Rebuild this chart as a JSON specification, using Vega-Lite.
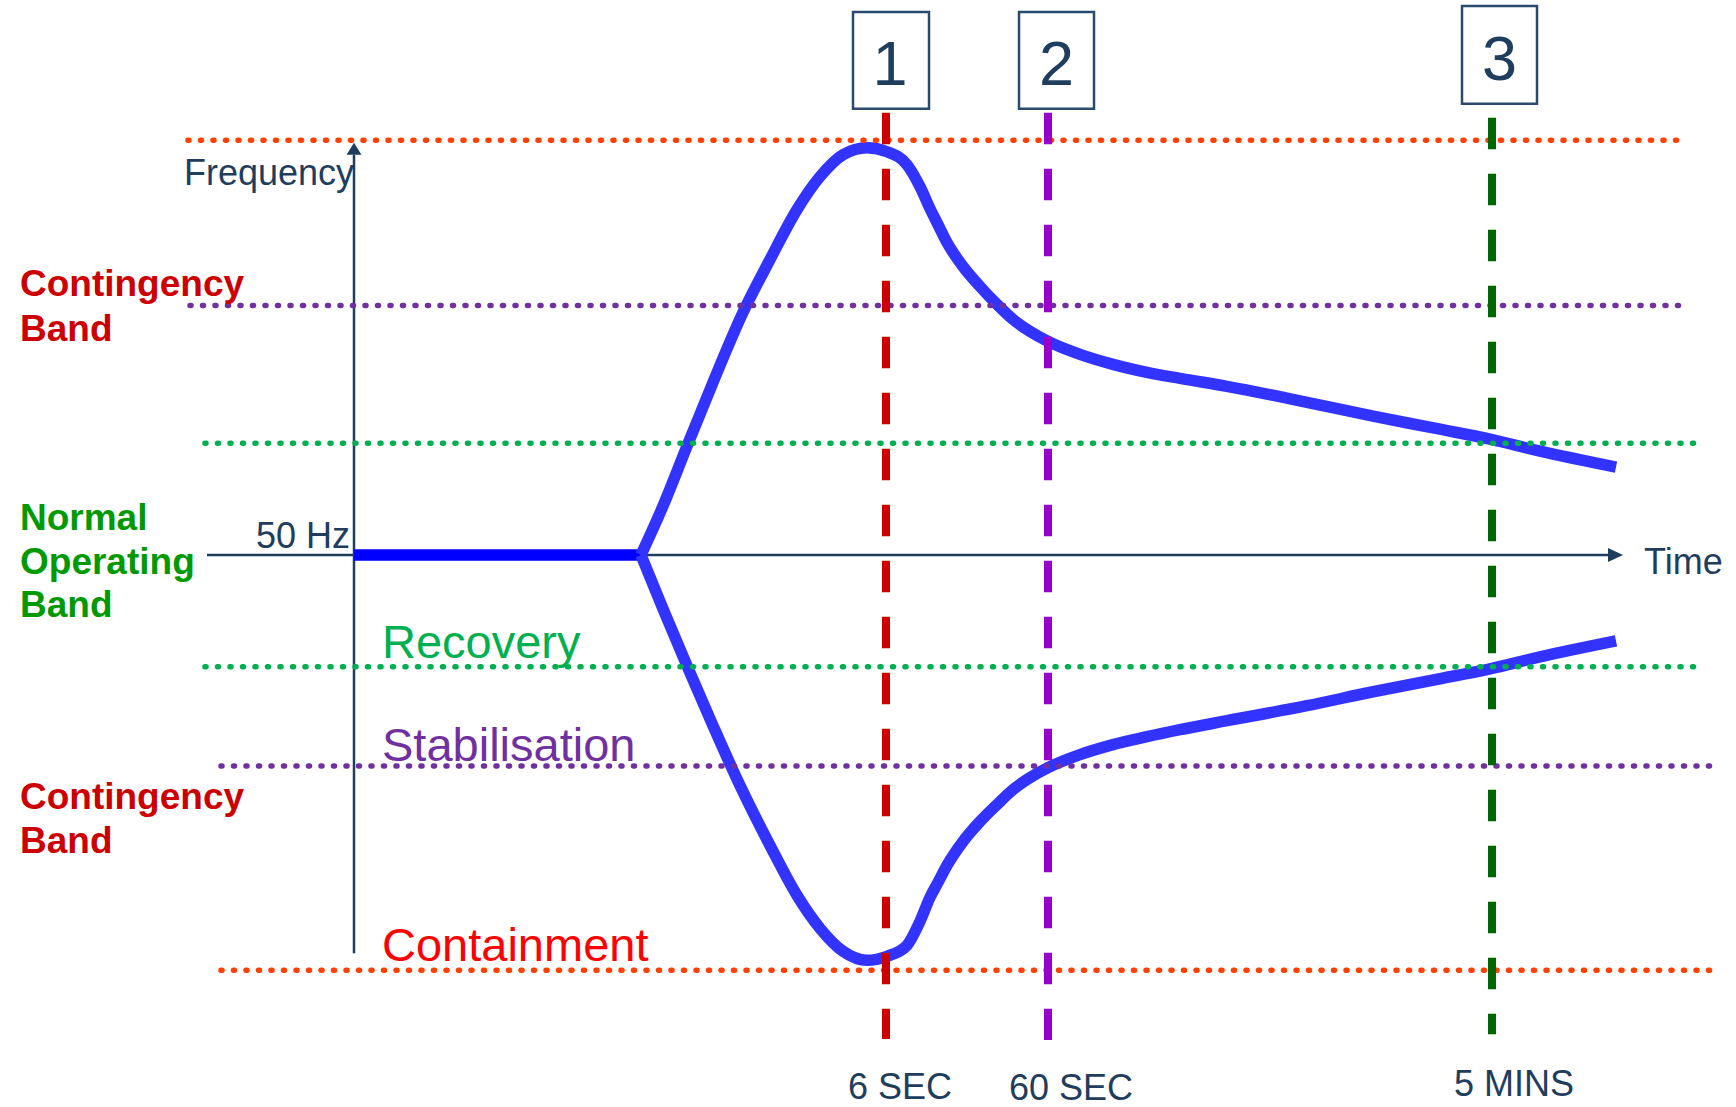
{
  "$schema": "https://vega.github.io/schema/vega-lite/v6.json",
  "width": 1736,
  "height": 1107,
  "autosize": {"type": "fit", "contains": "padding"},
  "padding": 0,
  "background": "white",
  "config": {"view": {"stroke": null}, "text": {"font": "Liberation Sans"}},
  "resolve": {"scale": {"color": "independent"}},
  "encoding": {
    "x": {"field": "t", "type": "quantitative", "scale": {"domain": [-354, 1382], "nice": false, "zero": false}, "axis": null},
    "y": {"field": "f", "type": "quantitative", "scale": {"domain": [-551, 556], "nice": false, "zero": false}, "axis": null}
  },
  "layer": [
    {
      "data": {"values": [{"t": -147, "t2": 1256, "f": 0}]},
      "mark": {"type": "rule", "color": "#1F3D5C", "strokeWidth": 2.5},
      "encoding": {"x2": {"field": "t2"}}
    },
    {
      "data": {"values": [{"t": 0, "f": -399, "f2": 401}]},
      "mark": {"type": "rule", "color": "#1F3D5C", "strokeWidth": 2.5},
      "encoding": {"y2": {"field": "f2"}}
    },
    {
      "data": {"values": [{"t": 1261.5, "f": 0}]},
      "mark": {"type": "point", "shape": "M-1,-0.93L1,0L-1,0.93Z", "size": 225, "filled": true, "color": "#1F3D5C", "opacity": 1, "strokeWidth": 0},
      "encoding": {}
    },
    {
      "data": {"values": [{"t": 0, "f": 407}]},
      "mark": {"type": "point", "shape": "M-1,0.8L0,-0.8L1,0.8Z", "size": 225, "filled": true, "color": "#1F3D5C", "opacity": 1, "strokeWidth": 0},
      "encoding": {}
    },
    {
      "data": {"values": [{"t": 0, "f": 0}, {"t": 288, "f": 0}]},
      "mark": {"type": "line", "color": "#0000FF", "strokeWidth": 11.5},
      "encoding": {}
    },
    {
      "data": {"values": [
        {"branch": "high", "t": 287, "f": 0},
        {"branch": "high", "t": 309, "f": 49},
        {"branch": "high", "t": 333, "f": 109},
        {"branch": "high", "t": 359, "f": 173},
        {"branch": "high", "t": 389, "f": 243},
        {"branch": "high", "t": 416, "f": 296},
        {"branch": "high", "t": 443, "f": 346},
        {"branch": "high", "t": 466, "f": 379},
        {"branch": "high", "t": 489, "f": 401},
        {"branch": "high", "t": 513, "f": 408},
        {"branch": "high", "t": 533, "f": 404},
        {"branch": "high", "t": 553, "f": 391},
        {"branch": "high", "t": 566, "f": 369},
        {"branch": "high", "t": 576, "f": 347},
        {"branch": "high", "t": 584, "f": 331},
        {"branch": "high", "t": 593, "f": 313},
        {"branch": "high", "t": 609, "f": 289},
        {"branch": "high", "t": 626, "f": 269},
        {"branch": "high", "t": 643, "f": 251},
        {"branch": "high", "t": 659, "f": 236},
        {"branch": "high", "t": 676, "f": 224},
        {"branch": "high", "t": 694, "f": 214},
        {"branch": "high", "t": 726, "f": 201},
        {"branch": "high", "t": 759, "f": 191},
        {"branch": "high", "t": 793, "f": 183},
        {"branch": "high", "t": 826, "f": 177},
        {"branch": "high", "t": 873, "f": 169},
        {"branch": "high", "t": 953, "f": 153},
        {"branch": "high", "t": 1019, "f": 139},
        {"branch": "high", "t": 1086, "f": 126},
        {"branch": "high", "t": 1136, "f": 116},
        {"branch": "high", "t": 1186, "f": 104},
        {"branch": "high", "t": 1262, "f": 88},
        {"branch": "low", "t": 287, "f": 0},
        {"branch": "low", "t": 309, "f": -54},
        {"branch": "low", "t": 333, "f": -111},
        {"branch": "low", "t": 359, "f": -171},
        {"branch": "low", "t": 386, "f": -231},
        {"branch": "low", "t": 416, "f": -291},
        {"branch": "low", "t": 443, "f": -341},
        {"branch": "low", "t": 466, "f": -374},
        {"branch": "low", "t": 489, "f": -397},
        {"branch": "low", "t": 513, "f": -406},
        {"branch": "low", "t": 533, "f": -402},
        {"branch": "low", "t": 553, "f": -391},
        {"branch": "low", "t": 566, "f": -367},
        {"branch": "low", "t": 576, "f": -343},
        {"branch": "low", "t": 584, "f": -328},
        {"branch": "low", "t": 593, "f": -311},
        {"branch": "low", "t": 609, "f": -287},
        {"branch": "low", "t": 626, "f": -267},
        {"branch": "low", "t": 643, "f": -250},
        {"branch": "low", "t": 659, "f": -235},
        {"branch": "low", "t": 676, "f": -223},
        {"branch": "low", "t": 694, "f": -213},
        {"branch": "low", "t": 726, "f": -200},
        {"branch": "low", "t": 759, "f": -190},
        {"branch": "low", "t": 793, "f": -182},
        {"branch": "low", "t": 826, "f": -175},
        {"branch": "low", "t": 873, "f": -166},
        {"branch": "low", "t": 953, "f": -151},
        {"branch": "low", "t": 1019, "f": -137},
        {"branch": "low", "t": 1086, "f": -124},
        {"branch": "low", "t": 1136, "f": -114},
        {"branch": "low", "t": 1186, "f": -102},
        {"branch": "low", "t": 1262, "f": -86}
      ]},
      "mark": {"type": "line", "color": "#3333FF", "strokeWidth": 11.5, "interpolate": "monotone"},
      "encoding": {"detail": {"field": "branch", "type": "nominal"}}
    },
    {
      "data": {"values": [
        {"band": "Containment", "t": -166, "t2": 1334, "f": 415.5},
        {"band": "Stabilisation", "t": -164, "t2": 1334, "f": 250},
        {"band": "Recovery", "t": -149, "t2": 1344, "f": 112},
        {"band": "Recovery", "t": -149, "t2": 1344, "f": -112},
        {"band": "Stabilisation", "t": -133, "t2": 1360, "f": -211.5},
        {"band": "Containment", "t": -133, "t2": 1360, "f": -416}
      ]},
      "mark": {"type": "rule", "strokeWidth": 5.5, "strokeDash": [1, 11.5], "strokeCap": "round"},
      "encoding": {
        "x2": {"field": "t2"},
        "color": {"field": "band", "type": "nominal", "scale": {"domain": ["Containment", "Stabilisation", "Recovery"], "range": ["#FF4000", "#7030A0", "#00B050"]}, "legend": null}
      }
    },
    {
      "data": {"values": [
        {"limit": "6 SEC", "t": 532, "f": 443, "f2": -485},
        {"limit": "60 SEC", "t": 694, "f": 443, "f2": -486},
        {"limit": "5 MINS", "t": 1138, "f": 438, "f2": -480}
      ]},
      "mark": {"type": "rule", "strokeWidth": 8, "strokeDash": [31.5, 24.5]},
      "encoding": {
        "y2": {"field": "f2"},
        "color": {"field": "limit", "type": "nominal", "scale": {"domain": ["6 SEC", "60 SEC", "5 MINS"], "range": ["#CC0000", "#9900CC", "#006600"]}, "legend": null}
      }
    },
    {
      "data": {"values": [
        {"n": "1", "t": 499, "t2": 575, "f": 544, "f2": 447},
        {"n": "2", "t": 665, "t2": 740, "f": 544, "f2": 447},
        {"n": "3", "t": 1108, "t2": 1183, "f": 550, "f2": 452}
      ]},
      "mark": {"type": "rect", "fill": "white", "stroke": "#2B4A6F", "strokeWidth": 2.5},
      "encoding": {"x2": {"field": "t2"}, "y2": {"field": "f2"}}
    },
    {
      "data": {"values": [
        {"n": "1", "t": 536, "f": 471},
        {"n": "2", "t": 702.5, "f": 471},
        {"n": "3", "t": 1145.5, "f": 476}
      ]},
      "mark": {"type": "text", "fontSize": 63, "align": "center", "baseline": "alphabetic", "color": "#1F3D5C"},
      "encoding": {"text": {"field": "n"}}
    },
    {
      "data": {"values": [
        {"label": "Frequency", "t": -170, "f": 371},
        {"label": "Time", "t": 1290, "f": -19}
      ]},
      "mark": {"type": "text", "fontSize": 36, "align": "left", "baseline": "alphabetic", "color": "#1F3D5C"},
      "encoding": {"text": {"field": "label"}}
    },
    {
      "data": {"values": [{"label": "50 Hz", "t": -4, "f": 7}]},
      "mark": {"type": "text", "fontSize": 36, "align": "right", "baseline": "alphabetic", "color": "#1F3D5C"},
      "encoding": {"text": {"field": "label"}}
    },
    {
      "data": {"values": [
        {"label": "6 SEC", "t": 546, "f": -545},
        {"label": "60 SEC", "t": 717, "f": -546},
        {"label": "5 MINS", "t": 1160, "f": -542}
      ]},
      "mark": {"type": "text", "fontSize": 36, "align": "center", "baseline": "alphabetic", "color": "#1F3D5C"},
      "encoding": {"text": {"field": "label"}}
    },
    {
      "data": {"values": [
        {"label": "Contingency", "t": -334, "f": 259},
        {"label": "Band", "t": -334, "f": 214},
        {"label": "Contingency", "t": -334, "f": -254},
        {"label": "Band", "t": -334, "f": -299}
      ]},
      "mark": {"type": "text", "fontSize": 37, "fontWeight": "bold", "align": "left", "baseline": "alphabetic", "color": "#CC0000"},
      "encoding": {"text": {"field": "label"}}
    },
    {
      "data": {"values": [
        {"label": "Normal", "t": -334, "f": 25},
        {"label": "Operating", "t": -334, "f": -19},
        {"label": "Band", "t": -334, "f": -62}
      ]},
      "mark": {"type": "text", "fontSize": 37, "fontWeight": "bold", "align": "left", "baseline": "alphabetic", "color": "#009A00"},
      "encoding": {"text": {"field": "label"}}
    },
    {
      "data": {"values": [
        {"label": "Recovery", "t": 28, "f": -103},
        {"label": "Stabilisation", "t": 28, "f": -206},
        {"label": "Containment", "t": 28, "f": -407}
      ]},
      "mark": {"type": "text", "fontSize": 47, "align": "left", "baseline": "alphabetic"},
      "encoding": {
        "text": {"field": "label"},
        "color": {"field": "label", "type": "nominal", "scale": {"domain": ["Recovery", "Stabilisation", "Containment"], "range": ["#00B050", "#7030A0", "#FF0000"]}, "legend": null}
      }
    }
  ]
}
